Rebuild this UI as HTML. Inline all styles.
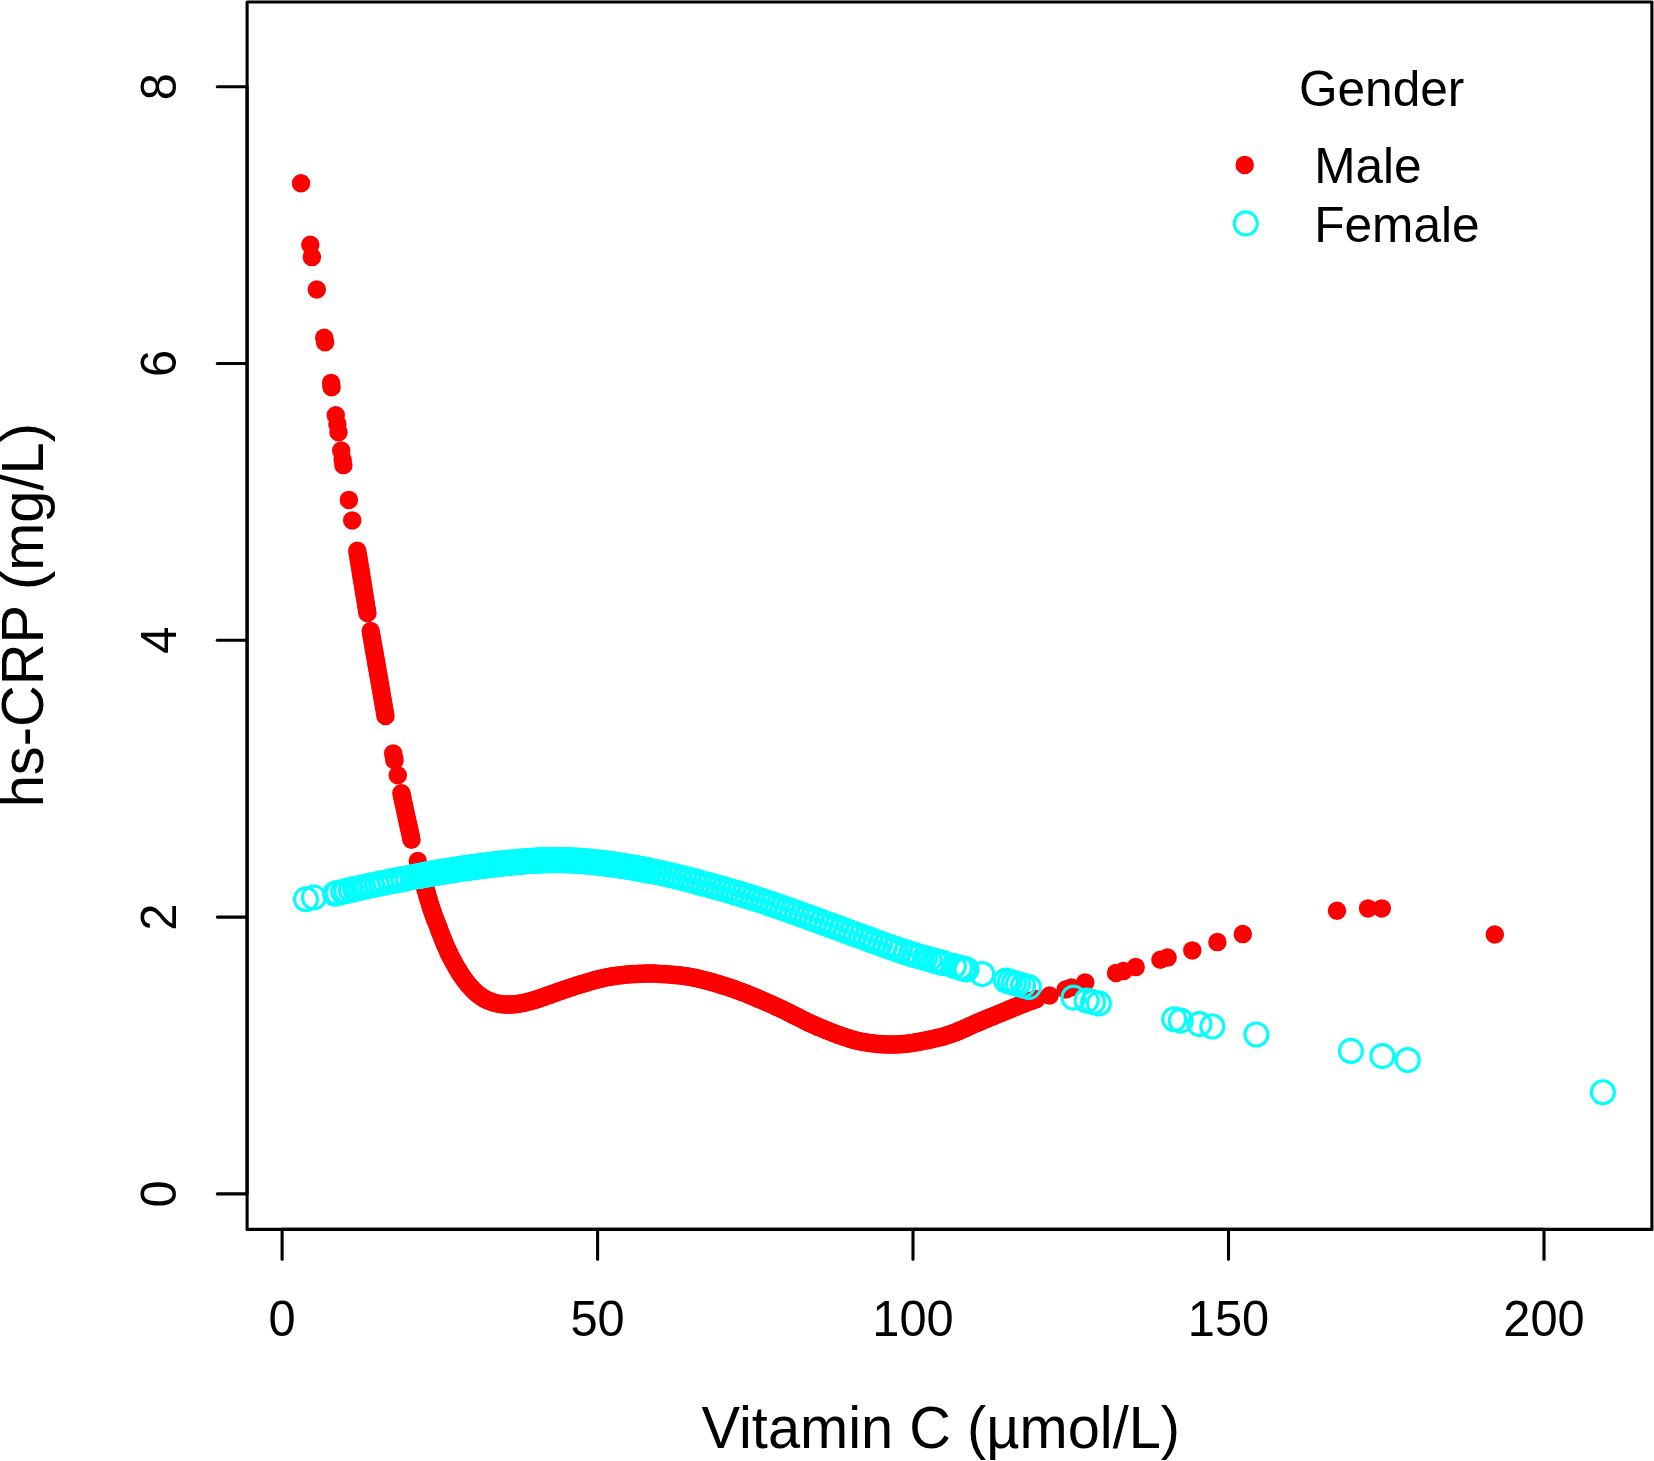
<!DOCTYPE html>
<html lang="en"><head><meta charset="utf-8"><title>hs-CRP vs Vitamin C by gender</title>
<style>html,body{margin:0;padding:0;background:#fff;}body{width:1654px;height:1461px;overflow:hidden;}svg{display:block;}text{font-family:"Liberation Sans",sans-serif;fill:#000;}</style></head><body>
<svg width="1654" height="1461" viewBox="0 0 1654 1461">
<rect x="0" y="0" width="1654" height="1461" fill="#ffffff"/>
<g fill="#ff0000" stroke="#ff0000" stroke-width="3.10">
<circle cx="301.0" cy="183.2" r="7.70"/>
<circle cx="310.3" cy="244.8" r="7.70"/>
<circle cx="311.9" cy="257.1" r="7.70"/>
<circle cx="316.8" cy="289.5" r="7.70"/>
<circle cx="324.2" cy="337.7" r="7.70"/>
<circle cx="325.1" cy="342.3" r="7.70"/>
<circle cx="331.1" cy="382.9" r="7.70"/>
<circle cx="331.6" cy="387.3" r="7.70"/>
<circle cx="335.8" cy="415.2" r="7.70"/>
<circle cx="337.4" cy="424.0" r="7.70"/>
<circle cx="338.5" cy="432.2" r="7.70"/>
<circle cx="341.2" cy="450.5" r="7.70"/>
<circle cx="342.6" cy="459.6" r="7.70"/>
<circle cx="343.4" cy="465.1" r="7.70"/>
<circle cx="348.9" cy="499.9" r="7.70"/>
<circle cx="352.2" cy="520.4" r="7.70"/>
<circle cx="357.3" cy="550.7" r="7.70"/>
<circle cx="357.8" cy="553.7" r="7.70"/>
<circle cx="358.3" cy="556.6" r="7.70"/>
<circle cx="358.7" cy="559.6" r="7.70"/>
<circle cx="359.2" cy="562.5" r="7.70"/>
<circle cx="359.7" cy="565.5" r="7.70"/>
<circle cx="360.2" cy="568.5" r="7.70"/>
<circle cx="360.7" cy="571.4" r="7.70"/>
<circle cx="361.1" cy="574.4" r="7.70"/>
<circle cx="361.6" cy="577.4" r="7.70"/>
<circle cx="362.1" cy="580.3" r="7.70"/>
<circle cx="362.6" cy="583.3" r="7.70"/>
<circle cx="363.1" cy="586.2" r="7.70"/>
<circle cx="363.6" cy="589.2" r="7.70"/>
<circle cx="364.0" cy="592.2" r="7.70"/>
<circle cx="364.5" cy="595.1" r="7.70"/>
<circle cx="365.0" cy="598.1" r="7.70"/>
<circle cx="365.5" cy="601.1" r="7.70"/>
<circle cx="366.0" cy="604.0" r="7.70"/>
<circle cx="366.4" cy="607.0" r="7.70"/>
<circle cx="366.9" cy="609.9" r="7.70"/>
<circle cx="367.4" cy="612.9" r="7.70"/>
<circle cx="370.7" cy="631.0" r="7.70"/>
<circle cx="371.2" cy="634.0" r="7.70"/>
<circle cx="371.8" cy="637.1" r="7.70"/>
<circle cx="372.3" cy="640.1" r="7.70"/>
<circle cx="372.8" cy="643.1" r="7.70"/>
<circle cx="373.3" cy="646.2" r="7.70"/>
<circle cx="373.9" cy="649.2" r="7.70"/>
<circle cx="374.4" cy="652.2" r="7.70"/>
<circle cx="374.9" cy="655.3" r="7.70"/>
<circle cx="375.5" cy="658.3" r="7.70"/>
<circle cx="376.0" cy="661.3" r="7.70"/>
<circle cx="376.5" cy="664.4" r="7.70"/>
<circle cx="377.0" cy="667.4" r="7.70"/>
<circle cx="377.6" cy="670.4" r="7.70"/>
<circle cx="378.1" cy="673.5" r="7.70"/>
<circle cx="378.6" cy="676.5" r="7.70"/>
<circle cx="379.2" cy="679.5" r="7.70"/>
<circle cx="379.7" cy="682.5" r="7.70"/>
<circle cx="380.2" cy="685.6" r="7.70"/>
<circle cx="380.7" cy="688.6" r="7.70"/>
<circle cx="381.3" cy="691.6" r="7.70"/>
<circle cx="381.8" cy="694.7" r="7.70"/>
<circle cx="382.3" cy="697.7" r="7.70"/>
<circle cx="382.9" cy="700.7" r="7.70"/>
<circle cx="383.4" cy="703.8" r="7.70"/>
<circle cx="383.9" cy="706.8" r="7.70"/>
<circle cx="384.4" cy="709.8" r="7.70"/>
<circle cx="385.0" cy="712.9" r="7.70"/>
<circle cx="385.5" cy="715.9" r="7.70"/>
<circle cx="393.2" cy="753.4" r="7.70"/>
<circle cx="393.9" cy="756.8" r="7.70"/>
<circle cx="394.5" cy="760.3" r="7.70"/>
<circle cx="397.8" cy="775.3" r="7.70"/>
<circle cx="401.4" cy="793.2" r="7.70"/>
<circle cx="402.1" cy="796.3" r="7.70"/>
<circle cx="402.7" cy="799.4" r="7.70"/>
<circle cx="403.4" cy="802.5" r="7.70"/>
<circle cx="404.1" cy="805.6" r="7.70"/>
<circle cx="404.8" cy="808.7" r="7.70"/>
<circle cx="405.4" cy="811.8" r="7.70"/>
<circle cx="406.1" cy="814.9" r="7.70"/>
<circle cx="406.8" cy="818.0" r="7.70"/>
<circle cx="407.5" cy="821.1" r="7.70"/>
<circle cx="408.1" cy="824.2" r="7.70"/>
<circle cx="408.8" cy="827.3" r="7.70"/>
<circle cx="409.5" cy="830.4" r="7.70"/>
<circle cx="410.2" cy="833.5" r="7.70"/>
<circle cx="410.8" cy="836.6" r="7.70"/>
<circle cx="411.5" cy="839.7" r="7.70"/>
<circle cx="417.8" cy="861.1" r="7.70"/>
<circle cx="424.6" cy="886.5" r="7.70"/>
<circle cx="425.3" cy="888.4" r="7.70"/>
<circle cx="425.9" cy="890.3" r="7.70"/>
<circle cx="426.5" cy="892.2" r="7.70"/>
<circle cx="427.1" cy="894.1" r="7.70"/>
<circle cx="427.6" cy="896.0" r="7.70"/>
<circle cx="428.2" cy="898.0" r="7.70"/>
<circle cx="428.8" cy="899.9" r="7.70"/>
<circle cx="429.3" cy="901.8" r="7.70"/>
<circle cx="429.9" cy="903.7" r="7.70"/>
<circle cx="430.4" cy="905.6" r="7.70"/>
<circle cx="431.0" cy="907.6" r="7.70"/>
<circle cx="431.7" cy="909.5" r="7.70"/>
<circle cx="432.3" cy="911.4" r="7.70"/>
<circle cx="433.0" cy="913.2" r="7.70"/>
<circle cx="433.7" cy="915.1" r="7.70"/>
<circle cx="434.4" cy="917.0" r="7.70"/>
<circle cx="435.1" cy="918.9" r="7.70"/>
<circle cx="435.8" cy="920.7" r="7.70"/>
<circle cx="436.6" cy="922.6" r="7.70"/>
<circle cx="437.3" cy="924.5" r="7.70"/>
<circle cx="438.0" cy="926.3" r="7.70"/>
<circle cx="438.7" cy="928.2" r="7.70"/>
<circle cx="439.4" cy="930.1" r="7.70"/>
<circle cx="440.1" cy="932.0" r="7.70"/>
<circle cx="440.8" cy="933.8" r="7.70"/>
<circle cx="441.5" cy="935.7" r="7.70"/>
<circle cx="442.2" cy="937.6" r="7.70"/>
<circle cx="443.0" cy="939.4" r="7.70"/>
<circle cx="443.7" cy="941.3" r="7.70"/>
<circle cx="444.5" cy="943.1" r="7.70"/>
<circle cx="445.3" cy="945.0" r="7.70"/>
<circle cx="446.1" cy="946.8" r="7.70"/>
<circle cx="446.9" cy="948.6" r="7.70"/>
<circle cx="447.7" cy="950.5" r="7.70"/>
<circle cx="448.5" cy="952.3" r="7.70"/>
<circle cx="449.4" cy="954.1" r="7.70"/>
<circle cx="450.3" cy="955.9" r="7.70"/>
<circle cx="451.2" cy="957.7" r="7.70"/>
<circle cx="452.1" cy="959.4" r="7.70"/>
<circle cx="453.1" cy="961.2" r="7.70"/>
<circle cx="454.1" cy="963.0" r="7.70"/>
<circle cx="455.0" cy="964.7" r="7.70"/>
<circle cx="456.0" cy="966.5" r="7.70"/>
<circle cx="457.0" cy="968.2" r="7.70"/>
<circle cx="458.0" cy="969.9" r="7.70"/>
<circle cx="459.1" cy="971.6" r="7.70"/>
<circle cx="460.1" cy="973.3" r="7.70"/>
<circle cx="461.2" cy="975.0" r="7.70"/>
<circle cx="462.3" cy="976.6" r="7.70"/>
<circle cx="463.5" cy="978.3" r="7.70"/>
<circle cx="464.7" cy="979.9" r="7.70"/>
<circle cx="465.9" cy="981.5" r="7.70"/>
<circle cx="467.1" cy="983.1" r="7.70"/>
<circle cx="468.4" cy="984.7" r="7.70"/>
<circle cx="469.7" cy="986.3" r="7.70"/>
<circle cx="471.1" cy="987.8" r="7.70"/>
<circle cx="472.5" cy="989.2" r="7.70"/>
<circle cx="473.9" cy="990.7" r="7.70"/>
<circle cx="475.4" cy="992.1" r="7.70"/>
<circle cx="476.9" cy="993.4" r="7.70"/>
<circle cx="478.5" cy="994.7" r="7.70"/>
<circle cx="480.1" cy="995.9" r="7.70"/>
<circle cx="481.8" cy="997.0" r="7.70"/>
<circle cx="483.5" cy="998.1" r="7.70"/>
<circle cx="485.2" cy="999.1" r="7.70"/>
<circle cx="487.0" cy="1000.0" r="7.70"/>
<circle cx="488.8" cy="1000.8" r="7.70"/>
<circle cx="490.7" cy="1001.6" r="7.70"/>
<circle cx="492.6" cy="1002.2" r="7.70"/>
<circle cx="494.5" cy="1002.8" r="7.70"/>
<circle cx="496.5" cy="1003.3" r="7.70"/>
<circle cx="498.4" cy="1003.7" r="7.70"/>
<circle cx="500.4" cy="1004.0" r="7.70"/>
<circle cx="502.4" cy="1004.3" r="7.70"/>
<circle cx="504.5" cy="1004.5" r="7.70"/>
<circle cx="506.5" cy="1004.6" r="7.70"/>
<circle cx="508.5" cy="1004.6" r="7.70"/>
<circle cx="510.5" cy="1004.6" r="7.70"/>
<circle cx="512.5" cy="1004.5" r="7.70"/>
<circle cx="514.5" cy="1004.3" r="7.70"/>
<circle cx="516.5" cy="1004.1" r="7.70"/>
<circle cx="518.5" cy="1003.8" r="7.70"/>
<circle cx="520.5" cy="1003.5" r="7.70"/>
<circle cx="522.4" cy="1003.1" r="7.70"/>
<circle cx="524.4" cy="1002.7" r="7.70"/>
<circle cx="526.4" cy="1002.3" r="7.70"/>
<circle cx="528.3" cy="1001.8" r="7.70"/>
<circle cx="530.3" cy="1001.2" r="7.70"/>
<circle cx="532.2" cy="1000.7" r="7.70"/>
<circle cx="534.1" cy="1000.1" r="7.70"/>
<circle cx="536.1" cy="999.5" r="7.70"/>
<circle cx="538.0" cy="998.9" r="7.70"/>
<circle cx="539.9" cy="998.3" r="7.70"/>
<circle cx="541.8" cy="997.6" r="7.70"/>
<circle cx="543.7" cy="997.0" r="7.70"/>
<circle cx="545.6" cy="996.3" r="7.70"/>
<circle cx="547.4" cy="995.6" r="7.70"/>
<circle cx="549.3" cy="995.0" r="7.70"/>
<circle cx="551.2" cy="994.3" r="7.70"/>
<circle cx="553.1" cy="993.6" r="7.70"/>
<circle cx="555.0" cy="992.9" r="7.70"/>
<circle cx="556.8" cy="992.2" r="7.70"/>
<circle cx="558.7" cy="991.6" r="7.70"/>
<circle cx="560.6" cy="990.9" r="7.70"/>
<circle cx="562.5" cy="990.2" r="7.70"/>
<circle cx="564.4" cy="989.6" r="7.70"/>
<circle cx="566.3" cy="988.9" r="7.70"/>
<circle cx="568.2" cy="988.3" r="7.70"/>
<circle cx="570.1" cy="987.7" r="7.70"/>
<circle cx="572.0" cy="987.1" r="7.70"/>
<circle cx="573.9" cy="986.4" r="7.70"/>
<circle cx="575.8" cy="985.8" r="7.70"/>
<circle cx="577.7" cy="985.2" r="7.70"/>
<circle cx="579.6" cy="984.6" r="7.70"/>
<circle cx="581.5" cy="984.0" r="7.70"/>
<circle cx="583.5" cy="983.5" r="7.70"/>
<circle cx="585.4" cy="982.9" r="7.70"/>
<circle cx="587.3" cy="982.3" r="7.70"/>
<circle cx="589.2" cy="981.8" r="7.70"/>
<circle cx="591.1" cy="981.2" r="7.70"/>
<circle cx="593.1" cy="980.6" r="7.70"/>
<circle cx="595.0" cy="980.1" r="7.70"/>
<circle cx="596.9" cy="979.6" r="7.70"/>
<circle cx="598.9" cy="979.1" r="7.70"/>
<circle cx="600.8" cy="978.6" r="7.70"/>
<circle cx="602.8" cy="978.2" r="7.70"/>
<circle cx="604.7" cy="977.7" r="7.70"/>
<circle cx="606.7" cy="977.3" r="7.70"/>
<circle cx="608.6" cy="976.9" r="7.70"/>
<circle cx="610.6" cy="976.6" r="7.70"/>
<circle cx="612.6" cy="976.2" r="7.70"/>
<circle cx="614.6" cy="975.9" r="7.70"/>
<circle cx="616.5" cy="975.7" r="7.70"/>
<circle cx="618.5" cy="975.4" r="7.70"/>
<circle cx="620.5" cy="975.2" r="7.70"/>
<circle cx="622.5" cy="974.9" r="7.70"/>
<circle cx="624.5" cy="974.8" r="7.70"/>
<circle cx="626.5" cy="974.6" r="7.70"/>
<circle cx="628.5" cy="974.4" r="7.70"/>
<circle cx="630.5" cy="974.3" r="7.70"/>
<circle cx="632.5" cy="974.1" r="7.70"/>
<circle cx="634.5" cy="974.0" r="7.70"/>
<circle cx="636.5" cy="973.9" r="7.70"/>
<circle cx="638.5" cy="973.8" r="7.70"/>
<circle cx="640.5" cy="973.7" r="7.70"/>
<circle cx="642.5" cy="973.7" r="7.70"/>
<circle cx="644.5" cy="973.6" r="7.70"/>
<circle cx="646.5" cy="973.6" r="7.70"/>
<circle cx="648.5" cy="973.6" r="7.70"/>
<circle cx="650.5" cy="973.6" r="7.70"/>
<circle cx="652.5" cy="973.6" r="7.70"/>
<circle cx="654.5" cy="973.6" r="7.70"/>
<circle cx="656.5" cy="973.7" r="7.70"/>
<circle cx="658.5" cy="973.8" r="7.70"/>
<circle cx="660.5" cy="973.9" r="7.70"/>
<circle cx="662.5" cy="974.0" r="7.70"/>
<circle cx="664.5" cy="974.1" r="7.70"/>
<circle cx="666.5" cy="974.3" r="7.70"/>
<circle cx="668.5" cy="974.4" r="7.70"/>
<circle cx="670.5" cy="974.6" r="7.70"/>
<circle cx="672.5" cy="974.8" r="7.70"/>
<circle cx="674.5" cy="975.0" r="7.70"/>
<circle cx="676.5" cy="975.1" r="7.70"/>
<circle cx="678.5" cy="975.3" r="7.70"/>
<circle cx="680.5" cy="975.6" r="7.70"/>
<circle cx="682.5" cy="975.8" r="7.70"/>
<circle cx="684.5" cy="976.0" r="7.70"/>
<circle cx="686.4" cy="976.3" r="7.70"/>
<circle cx="688.4" cy="976.6" r="7.70"/>
<circle cx="690.4" cy="976.9" r="7.70"/>
<circle cx="692.4" cy="977.3" r="7.70"/>
<circle cx="694.3" cy="977.7" r="7.70"/>
<circle cx="696.3" cy="978.1" r="7.70"/>
<circle cx="698.2" cy="978.5" r="7.70"/>
<circle cx="700.2" cy="979.0" r="7.70"/>
<circle cx="702.1" cy="979.5" r="7.70"/>
<circle cx="704.1" cy="980.0" r="7.70"/>
<circle cx="706.0" cy="980.5" r="7.70"/>
<circle cx="707.9" cy="981.0" r="7.70"/>
<circle cx="709.9" cy="981.5" r="7.70"/>
<circle cx="711.8" cy="982.1" r="7.70"/>
<circle cx="713.7" cy="982.6" r="7.70"/>
<circle cx="715.7" cy="983.2" r="7.70"/>
<circle cx="717.6" cy="983.7" r="7.70"/>
<circle cx="719.5" cy="984.3" r="7.70"/>
<circle cx="721.4" cy="984.9" r="7.70"/>
<circle cx="723.3" cy="985.5" r="7.70"/>
<circle cx="725.2" cy="986.1" r="7.70"/>
<circle cx="727.1" cy="986.7" r="7.70"/>
<circle cx="729.0" cy="987.3" r="7.70"/>
<circle cx="730.9" cy="988.0" r="7.70"/>
<circle cx="732.8" cy="988.6" r="7.70"/>
<circle cx="734.7" cy="989.3" r="7.70"/>
<circle cx="736.6" cy="990.0" r="7.70"/>
<circle cx="738.5" cy="990.7" r="7.70"/>
<circle cx="740.4" cy="991.4" r="7.70"/>
<circle cx="742.2" cy="992.1" r="7.70"/>
<circle cx="744.1" cy="992.8" r="7.70"/>
<circle cx="746.0" cy="993.5" r="7.70"/>
<circle cx="747.8" cy="994.3" r="7.70"/>
<circle cx="749.7" cy="995.0" r="7.70"/>
<circle cx="751.5" cy="995.8" r="7.70"/>
<circle cx="753.4" cy="996.6" r="7.70"/>
<circle cx="755.2" cy="997.4" r="7.70"/>
<circle cx="757.1" cy="998.1" r="7.70"/>
<circle cx="758.9" cy="998.9" r="7.70"/>
<circle cx="760.7" cy="999.7" r="7.70"/>
<circle cx="762.6" cy="1000.5" r="7.70"/>
<circle cx="764.4" cy="1001.3" r="7.70"/>
<circle cx="766.2" cy="1002.1" r="7.70"/>
<circle cx="768.1" cy="1002.9" r="7.70"/>
<circle cx="769.9" cy="1003.7" r="7.70"/>
<circle cx="771.7" cy="1004.5" r="7.70"/>
<circle cx="773.6" cy="1005.3" r="7.70"/>
<circle cx="775.4" cy="1006.2" r="7.70"/>
<circle cx="777.2" cy="1007.0" r="7.70"/>
<circle cx="779.0" cy="1007.8" r="7.70"/>
<circle cx="780.8" cy="1008.7" r="7.70"/>
<circle cx="782.7" cy="1009.5" r="7.70"/>
<circle cx="784.5" cy="1010.4" r="7.70"/>
<circle cx="786.3" cy="1011.3" r="7.70"/>
<circle cx="788.1" cy="1012.2" r="7.70"/>
<circle cx="789.8" cy="1013.1" r="7.70"/>
<circle cx="791.6" cy="1014.0" r="7.70"/>
<circle cx="793.4" cy="1014.9" r="7.70"/>
<circle cx="795.2" cy="1015.8" r="7.70"/>
<circle cx="797.0" cy="1016.7" r="7.70"/>
<circle cx="798.8" cy="1017.6" r="7.70"/>
<circle cx="800.6" cy="1018.5" r="7.70"/>
<circle cx="802.3" cy="1019.4" r="7.70"/>
<circle cx="804.1" cy="1020.3" r="7.70"/>
<circle cx="805.9" cy="1021.2" r="7.70"/>
<circle cx="807.7" cy="1022.1" r="7.70"/>
<circle cx="809.5" cy="1022.9" r="7.70"/>
<circle cx="811.4" cy="1023.8" r="7.70"/>
<circle cx="813.2" cy="1024.6" r="7.70"/>
<circle cx="815.0" cy="1025.4" r="7.70"/>
<circle cx="816.8" cy="1026.2" r="7.70"/>
<circle cx="818.7" cy="1027.0" r="7.70"/>
<circle cx="820.5" cy="1027.8" r="7.70"/>
<circle cx="822.4" cy="1028.5" r="7.70"/>
<circle cx="824.2" cy="1029.3" r="7.70"/>
<circle cx="826.1" cy="1030.1" r="7.70"/>
<circle cx="827.9" cy="1030.8" r="7.70"/>
<circle cx="829.8" cy="1031.6" r="7.70"/>
<circle cx="831.7" cy="1032.3" r="7.70"/>
<circle cx="833.5" cy="1033.0" r="7.70"/>
<circle cx="835.4" cy="1033.7" r="7.70"/>
<circle cx="837.3" cy="1034.4" r="7.70"/>
<circle cx="839.2" cy="1035.1" r="7.70"/>
<circle cx="841.1" cy="1035.8" r="7.70"/>
<circle cx="843.0" cy="1036.5" r="7.70"/>
<circle cx="844.9" cy="1037.1" r="7.70"/>
<circle cx="846.8" cy="1037.7" r="7.70"/>
<circle cx="848.7" cy="1038.3" r="7.70"/>
<circle cx="850.6" cy="1038.9" r="7.70"/>
<circle cx="852.5" cy="1039.5" r="7.70"/>
<circle cx="854.4" cy="1040.0" r="7.70"/>
<circle cx="856.4" cy="1040.5" r="7.70"/>
<circle cx="858.3" cy="1040.9" r="7.70"/>
<circle cx="860.3" cy="1041.4" r="7.70"/>
<circle cx="862.2" cy="1041.8" r="7.70"/>
<circle cx="864.2" cy="1042.1" r="7.70"/>
<circle cx="866.2" cy="1042.5" r="7.70"/>
<circle cx="868.2" cy="1042.8" r="7.70"/>
<circle cx="870.2" cy="1043.1" r="7.70"/>
<circle cx="872.1" cy="1043.3" r="7.70"/>
<circle cx="874.1" cy="1043.5" r="7.70"/>
<circle cx="876.1" cy="1043.7" r="7.70"/>
<circle cx="878.1" cy="1043.9" r="7.70"/>
<circle cx="880.1" cy="1044.1" r="7.70"/>
<circle cx="882.1" cy="1044.2" r="7.70"/>
<circle cx="884.1" cy="1044.3" r="7.70"/>
<circle cx="886.1" cy="1044.4" r="7.70"/>
<circle cx="888.1" cy="1044.5" r="7.70"/>
<circle cx="890.1" cy="1044.5" r="7.70"/>
<circle cx="892.1" cy="1044.5" r="7.70"/>
<circle cx="894.1" cy="1044.5" r="7.70"/>
<circle cx="896.1" cy="1044.4" r="7.70"/>
<circle cx="898.1" cy="1044.3" r="7.70"/>
<circle cx="900.1" cy="1044.2" r="7.70"/>
<circle cx="902.1" cy="1044.1" r="7.70"/>
<circle cx="904.1" cy="1043.9" r="7.70"/>
<circle cx="906.1" cy="1043.7" r="7.70"/>
<circle cx="908.1" cy="1043.5" r="7.70"/>
<circle cx="910.1" cy="1043.2" r="7.70"/>
<circle cx="912.1" cy="1042.9" r="7.70"/>
<circle cx="914.1" cy="1042.6" r="7.70"/>
<circle cx="916.0" cy="1042.3" r="7.70"/>
<circle cx="918.0" cy="1042.0" r="7.70"/>
<circle cx="920.0" cy="1041.6" r="7.70"/>
<circle cx="922.0" cy="1041.2" r="7.70"/>
<circle cx="923.9" cy="1040.8" r="7.70"/>
<circle cx="925.9" cy="1040.4" r="7.70"/>
<circle cx="927.8" cy="1040.0" r="7.70"/>
<circle cx="929.8" cy="1039.6" r="7.70"/>
<circle cx="931.8" cy="1039.2" r="7.70"/>
<circle cx="933.7" cy="1038.7" r="7.70"/>
<circle cx="935.7" cy="1038.3" r="7.70"/>
<circle cx="937.6" cy="1037.8" r="7.70"/>
<circle cx="939.6" cy="1037.4" r="7.70"/>
<circle cx="941.5" cy="1036.9" r="7.70"/>
<circle cx="943.4" cy="1036.4" r="7.70"/>
<circle cx="945.4" cy="1035.8" r="7.70"/>
<circle cx="947.3" cy="1035.2" r="7.70"/>
<circle cx="949.2" cy="1034.6" r="7.70"/>
<circle cx="951.1" cy="1034.0" r="7.70"/>
<circle cx="953.0" cy="1033.3" r="7.70"/>
<circle cx="954.8" cy="1032.6" r="7.70"/>
<circle cx="956.7" cy="1031.9" r="7.70"/>
<circle cx="958.5" cy="1031.1" r="7.70"/>
<circle cx="960.4" cy="1030.3" r="7.70"/>
<circle cx="962.2" cy="1029.5" r="7.70"/>
<circle cx="964.0" cy="1028.7" r="7.70"/>
<circle cx="965.9" cy="1027.9" r="7.70"/>
<circle cx="967.7" cy="1027.0" r="7.70"/>
<circle cx="969.5" cy="1026.2" r="7.70"/>
<circle cx="971.3" cy="1025.4" r="7.70"/>
<circle cx="973.2" cy="1024.5" r="7.70"/>
<circle cx="975.0" cy="1023.7" r="7.70"/>
<circle cx="976.8" cy="1022.9" r="7.70"/>
<circle cx="978.7" cy="1022.1" r="7.70"/>
<circle cx="980.5" cy="1021.4" r="7.70"/>
<circle cx="982.4" cy="1020.6" r="7.70"/>
<circle cx="984.2" cy="1019.8" r="7.70"/>
<circle cx="986.1" cy="1019.1" r="7.70"/>
<circle cx="987.9" cy="1018.3" r="7.70"/>
<circle cx="989.8" cy="1017.5" r="7.70"/>
<circle cx="991.6" cy="1016.8" r="7.70"/>
<circle cx="993.5" cy="1016.0" r="7.70"/>
<circle cx="995.3" cy="1015.3" r="7.70"/>
<circle cx="997.2" cy="1014.5" r="7.70"/>
<circle cx="999.0" cy="1013.7" r="7.70"/>
<circle cx="1000.9" cy="1013.0" r="7.70"/>
<circle cx="1002.7" cy="1012.2" r="7.70"/>
<circle cx="1004.6" cy="1011.4" r="7.70"/>
<circle cx="1006.4" cy="1010.7" r="7.70"/>
<circle cx="1008.3" cy="1009.9" r="7.70"/>
<circle cx="1010.1" cy="1009.1" r="7.70"/>
<circle cx="1012.0" cy="1008.4" r="7.70"/>
<circle cx="1013.8" cy="1007.6" r="7.70"/>
<circle cx="1015.7" cy="1006.8" r="7.70"/>
<circle cx="1017.5" cy="1006.1" r="7.70"/>
<circle cx="1019.4" cy="1005.3" r="7.70"/>
<circle cx="1021.3" cy="1004.6" r="7.70"/>
<circle cx="1023.1" cy="1003.9" r="7.70"/>
<circle cx="1025.0" cy="1003.2" r="7.70"/>
<circle cx="1026.9" cy="1002.5" r="7.70"/>
<circle cx="1028.7" cy="1001.8" r="7.70"/>
<circle cx="1030.6" cy="1001.1" r="7.70"/>
<circle cx="1032.5" cy="1000.4" r="7.70"/>
<circle cx="1034.4" cy="999.7" r="7.70"/>
<circle cx="1036.3" cy="999.1" r="7.70"/>
<circle cx="1049.6" cy="995.5" r="7.70"/>
<circle cx="1065.6" cy="989.6" r="7.70"/>
<circle cx="1071.4" cy="987.5" r="7.70"/>
<circle cx="1085.2" cy="982.4" r="7.70"/>
<circle cx="1116.1" cy="972.9" r="7.70"/>
<circle cx="1123.4" cy="971.1" r="7.70"/>
<circle cx="1135.7" cy="967.1" r="7.70"/>
<circle cx="1160.4" cy="959.8" r="7.70"/>
<circle cx="1167.6" cy="957.6" r="7.70"/>
<circle cx="1192.3" cy="950.4" r="7.70"/>
<circle cx="1217.4" cy="942.1" r="7.70"/>
<circle cx="1242.8" cy="934.1" r="7.70"/>
<circle cx="1337.0" cy="910.7" r="7.70"/>
<circle cx="1368.1" cy="908.4" r="7.70"/>
<circle cx="1381.8" cy="908.4" r="7.70"/>
<circle cx="1494.8" cy="934.5" r="7.70"/>
</g>
<g fill="none" stroke="#00ffff" stroke-width="3.10">
<circle cx="306.0" cy="899.2" r="11.50"/>
<circle cx="313.9" cy="897.5" r="11.50"/>
<circle cx="335.1" cy="893.7" r="11.50"/>
<circle cx="337.6" cy="893.1" r="11.50"/>
<circle cx="343.2" cy="891.7" r="11.50"/>
<circle cx="346.4" cy="891.0" r="11.50"/>
<circle cx="351.0" cy="889.9" r="11.50"/>
<circle cx="355.2" cy="888.9" r="11.50"/>
<circle cx="359.6" cy="888.0" r="11.50"/>
<circle cx="363.0" cy="887.2" r="11.50"/>
<circle cx="368.1" cy="886.1" r="11.50"/>
<circle cx="372.0" cy="885.2" r="11.50"/>
<circle cx="376.6" cy="884.3" r="11.50"/>
<circle cx="381.0" cy="883.4" r="11.50"/>
<circle cx="385.2" cy="882.5" r="11.50"/>
<circle cx="390.0" cy="881.6" r="11.50"/>
<circle cx="394.1" cy="880.8" r="11.50"/>
<circle cx="399.0" cy="879.9" r="11.50"/>
<circle cx="403.4" cy="879.0" r="11.50"/>
<circle cx="408.0" cy="878.1" r="11.50"/>
<circle cx="413.0" cy="877.1" r="11.50"/>
<circle cx="417.0" cy="876.3" r="11.50"/>
<circle cx="420.0" cy="875.8" r="11.50"/>
<circle cx="421.6" cy="875.5" r="11.50"/>
<circle cx="423.2" cy="875.2" r="11.50"/>
<circle cx="424.8" cy="874.9" r="11.50"/>
<circle cx="426.4" cy="874.6" r="11.50"/>
<circle cx="428.0" cy="874.3" r="11.50"/>
<circle cx="429.6" cy="874.0" r="11.50"/>
<circle cx="431.2" cy="873.7" r="11.50"/>
<circle cx="432.8" cy="873.4" r="11.50"/>
<circle cx="434.4" cy="873.1" r="11.50"/>
<circle cx="436.0" cy="872.9" r="11.50"/>
<circle cx="437.6" cy="872.6" r="11.50"/>
<circle cx="439.2" cy="872.3" r="11.50"/>
<circle cx="440.8" cy="872.0" r="11.50"/>
<circle cx="442.4" cy="871.8" r="11.50"/>
<circle cx="444.0" cy="871.5" r="11.50"/>
<circle cx="445.6" cy="871.2" r="11.50"/>
<circle cx="447.2" cy="871.0" r="11.50"/>
<circle cx="448.8" cy="870.7" r="11.50"/>
<circle cx="450.4" cy="870.5" r="11.50"/>
<circle cx="452.0" cy="870.2" r="11.50"/>
<circle cx="453.6" cy="870.0" r="11.50"/>
<circle cx="455.2" cy="869.7" r="11.50"/>
<circle cx="456.8" cy="869.5" r="11.50"/>
<circle cx="458.4" cy="869.2" r="11.50"/>
<circle cx="460.0" cy="869.0" r="11.50"/>
<circle cx="461.6" cy="868.8" r="11.50"/>
<circle cx="463.2" cy="868.5" r="11.50"/>
<circle cx="464.8" cy="868.3" r="11.50"/>
<circle cx="466.4" cy="868.1" r="11.50"/>
<circle cx="468.0" cy="867.9" r="11.50"/>
<circle cx="469.6" cy="867.6" r="11.50"/>
<circle cx="471.2" cy="867.4" r="11.50"/>
<circle cx="472.8" cy="867.2" r="11.50"/>
<circle cx="474.4" cy="867.0" r="11.50"/>
<circle cx="476.0" cy="866.8" r="11.50"/>
<circle cx="477.6" cy="866.5" r="11.50"/>
<circle cx="479.2" cy="866.3" r="11.50"/>
<circle cx="480.8" cy="866.1" r="11.50"/>
<circle cx="482.4" cy="865.9" r="11.50"/>
<circle cx="484.0" cy="865.7" r="11.50"/>
<circle cx="485.6" cy="865.5" r="11.50"/>
<circle cx="487.2" cy="865.3" r="11.50"/>
<circle cx="488.8" cy="865.1" r="11.50"/>
<circle cx="490.4" cy="864.9" r="11.50"/>
<circle cx="492.0" cy="864.7" r="11.50"/>
<circle cx="493.6" cy="864.5" r="11.50"/>
<circle cx="495.2" cy="864.3" r="11.50"/>
<circle cx="496.8" cy="864.1" r="11.50"/>
<circle cx="498.4" cy="863.9" r="11.50"/>
<circle cx="500.0" cy="863.8" r="11.50"/>
<circle cx="501.6" cy="863.6" r="11.50"/>
<circle cx="503.2" cy="863.4" r="11.50"/>
<circle cx="504.8" cy="863.2" r="11.50"/>
<circle cx="506.4" cy="863.1" r="11.50"/>
<circle cx="508.0" cy="862.9" r="11.50"/>
<circle cx="509.6" cy="862.7" r="11.50"/>
<circle cx="511.2" cy="862.6" r="11.50"/>
<circle cx="512.8" cy="862.4" r="11.50"/>
<circle cx="514.4" cy="862.3" r="11.50"/>
<circle cx="516.0" cy="862.1" r="11.50"/>
<circle cx="517.6" cy="862.0" r="11.50"/>
<circle cx="519.2" cy="861.8" r="11.50"/>
<circle cx="520.8" cy="861.7" r="11.50"/>
<circle cx="522.4" cy="861.6" r="11.50"/>
<circle cx="524.0" cy="861.4" r="11.50"/>
<circle cx="525.6" cy="861.3" r="11.50"/>
<circle cx="527.2" cy="861.2" r="11.50"/>
<circle cx="528.8" cy="861.1" r="11.50"/>
<circle cx="530.4" cy="861.0" r="11.50"/>
<circle cx="532.0" cy="860.9" r="11.50"/>
<circle cx="533.6" cy="860.8" r="11.50"/>
<circle cx="535.2" cy="860.7" r="11.50"/>
<circle cx="536.8" cy="860.6" r="11.50"/>
<circle cx="538.4" cy="860.5" r="11.50"/>
<circle cx="540.0" cy="860.4" r="11.50"/>
<circle cx="541.6" cy="860.4" r="11.50"/>
<circle cx="543.2" cy="860.3" r="11.50"/>
<circle cx="544.8" cy="860.3" r="11.50"/>
<circle cx="546.4" cy="860.2" r="11.50"/>
<circle cx="548.0" cy="860.2" r="11.50"/>
<circle cx="549.6" cy="860.1" r="11.50"/>
<circle cx="551.2" cy="860.1" r="11.50"/>
<circle cx="552.8" cy="860.1" r="11.50"/>
<circle cx="554.4" cy="860.1" r="11.50"/>
<circle cx="556.0" cy="860.1" r="11.50"/>
<circle cx="557.6" cy="860.1" r="11.50"/>
<circle cx="559.2" cy="860.1" r="11.50"/>
<circle cx="560.8" cy="860.1" r="11.50"/>
<circle cx="562.4" cy="860.1" r="11.50"/>
<circle cx="564.0" cy="860.2" r="11.50"/>
<circle cx="565.6" cy="860.2" r="11.50"/>
<circle cx="567.2" cy="860.3" r="11.50"/>
<circle cx="568.8" cy="860.3" r="11.50"/>
<circle cx="570.4" cy="860.4" r="11.50"/>
<circle cx="572.0" cy="860.5" r="11.50"/>
<circle cx="573.6" cy="860.5" r="11.50"/>
<circle cx="575.2" cy="860.6" r="11.50"/>
<circle cx="576.8" cy="860.7" r="11.50"/>
<circle cx="578.4" cy="860.8" r="11.50"/>
<circle cx="580.0" cy="860.9" r="11.50"/>
<circle cx="581.6" cy="861.0" r="11.50"/>
<circle cx="583.2" cy="861.2" r="11.50"/>
<circle cx="584.8" cy="861.3" r="11.50"/>
<circle cx="586.4" cy="861.4" r="11.50"/>
<circle cx="588.0" cy="861.6" r="11.50"/>
<circle cx="589.6" cy="861.7" r="11.50"/>
<circle cx="591.2" cy="861.9" r="11.50"/>
<circle cx="592.8" cy="862.0" r="11.50"/>
<circle cx="594.4" cy="862.2" r="11.50"/>
<circle cx="596.0" cy="862.4" r="11.50"/>
<circle cx="597.6" cy="862.5" r="11.50"/>
<circle cx="599.2" cy="862.7" r="11.50"/>
<circle cx="600.8" cy="862.9" r="11.50"/>
<circle cx="602.4" cy="863.1" r="11.50"/>
<circle cx="604.0" cy="863.3" r="11.50"/>
<circle cx="605.6" cy="863.5" r="11.50"/>
<circle cx="607.2" cy="863.7" r="11.50"/>
<circle cx="608.8" cy="863.9" r="11.50"/>
<circle cx="610.4" cy="864.1" r="11.50"/>
<circle cx="612.0" cy="864.4" r="11.50"/>
<circle cx="613.6" cy="864.6" r="11.50"/>
<circle cx="615.2" cy="864.8" r="11.50"/>
<circle cx="616.8" cy="865.0" r="11.50"/>
<circle cx="618.4" cy="865.3" r="11.50"/>
<circle cx="620.0" cy="865.5" r="11.50"/>
<circle cx="621.6" cy="865.8" r="11.50"/>
<circle cx="623.2" cy="866.0" r="11.50"/>
<circle cx="624.8" cy="866.2" r="11.50"/>
<circle cx="626.4" cy="866.5" r="11.50"/>
<circle cx="628.0" cy="866.8" r="11.50"/>
<circle cx="629.6" cy="867.0" r="11.50"/>
<circle cx="631.2" cy="867.3" r="11.50"/>
<circle cx="632.8" cy="867.6" r="11.50"/>
<circle cx="634.4" cy="867.8" r="11.50"/>
<circle cx="636.0" cy="868.1" r="11.50"/>
<circle cx="637.6" cy="868.4" r="11.50"/>
<circle cx="639.2" cy="868.7" r="11.50"/>
<circle cx="640.8" cy="869.0" r="11.50"/>
<circle cx="642.4" cy="869.3" r="11.50"/>
<circle cx="644.0" cy="869.6" r="11.50"/>
<circle cx="645.6" cy="869.9" r="11.50"/>
<circle cx="647.2" cy="870.2" r="11.50"/>
<circle cx="648.8" cy="870.5" r="11.50"/>
<circle cx="650.0" cy="870.7" r="11.50"/>
<circle cx="654.9" cy="871.7" r="11.50"/>
<circle cx="659.8" cy="872.8" r="11.50"/>
<circle cx="664.7" cy="873.8" r="11.50"/>
<circle cx="669.6" cy="875.0" r="11.50"/>
<circle cx="674.5" cy="876.1" r="11.50"/>
<circle cx="679.4" cy="877.3" r="11.50"/>
<circle cx="684.3" cy="878.6" r="11.50"/>
<circle cx="689.2" cy="879.8" r="11.50"/>
<circle cx="694.1" cy="881.1" r="11.50"/>
<circle cx="699.0" cy="882.4" r="11.50"/>
<circle cx="703.9" cy="883.7" r="11.50"/>
<circle cx="708.8" cy="885.0" r="11.50"/>
<circle cx="713.7" cy="886.4" r="11.50"/>
<circle cx="718.6" cy="887.8" r="11.50"/>
<circle cx="723.5" cy="889.1" r="11.50"/>
<circle cx="728.4" cy="890.5" r="11.50"/>
<circle cx="733.3" cy="892.0" r="11.50"/>
<circle cx="738.2" cy="893.4" r="11.50"/>
<circle cx="743.1" cy="894.9" r="11.50"/>
<circle cx="748.0" cy="896.4" r="11.50"/>
<circle cx="752.9" cy="897.9" r="11.50"/>
<circle cx="757.8" cy="899.5" r="11.50"/>
<circle cx="762.7" cy="901.1" r="11.50"/>
<circle cx="767.6" cy="902.7" r="11.50"/>
<circle cx="772.5" cy="904.4" r="11.50"/>
<circle cx="777.4" cy="906.1" r="11.50"/>
<circle cx="782.3" cy="907.8" r="11.50"/>
<circle cx="787.2" cy="909.5" r="11.50"/>
<circle cx="792.1" cy="911.3" r="11.50"/>
<circle cx="797.0" cy="913.0" r="11.50"/>
<circle cx="801.9" cy="914.8" r="11.50"/>
<circle cx="806.8" cy="916.6" r="11.50"/>
<circle cx="811.7" cy="918.4" r="11.50"/>
<circle cx="816.6" cy="920.1" r="11.50"/>
<circle cx="821.5" cy="921.9" r="11.50"/>
<circle cx="826.4" cy="923.7" r="11.50"/>
<circle cx="831.3" cy="925.5" r="11.50"/>
<circle cx="836.2" cy="927.3" r="11.50"/>
<circle cx="841.1" cy="929.1" r="11.50"/>
<circle cx="846.0" cy="930.9" r="11.50"/>
<circle cx="850.9" cy="932.7" r="11.50"/>
<circle cx="855.8" cy="934.5" r="11.50"/>
<circle cx="860.7" cy="936.3" r="11.50"/>
<circle cx="865.6" cy="938.1" r="11.50"/>
<circle cx="870.5" cy="939.9" r="11.50"/>
<circle cx="875.4" cy="941.7" r="11.50"/>
<circle cx="880.3" cy="943.5" r="11.50"/>
<circle cx="885.2" cy="945.3" r="11.50"/>
<circle cx="890.1" cy="947.0" r="11.50"/>
<circle cx="895.0" cy="948.7" r="11.50"/>
<circle cx="899.9" cy="950.4" r="11.50"/>
<circle cx="906.0" cy="952.4" r="11.50"/>
<circle cx="911.0" cy="954.0" r="11.50"/>
<circle cx="915.0" cy="955.2" r="11.50"/>
<circle cx="919.5" cy="956.5" r="11.50"/>
<circle cx="925.0" cy="958.1" r="11.50"/>
<circle cx="929.5" cy="959.3" r="11.50"/>
<circle cx="934.4" cy="960.7" r="11.50"/>
<circle cx="937.5" cy="961.5" r="11.50"/>
<circle cx="940.9" cy="962.5" r="11.50"/>
<circle cx="944.0" cy="963.3" r="11.50"/>
<circle cx="953.9" cy="966.0" r="11.50"/>
<circle cx="960.0" cy="967.7" r="11.50"/>
<circle cx="964.0" cy="968.8" r="11.50"/>
<circle cx="966.5" cy="969.5" r="11.50"/>
<circle cx="982.2" cy="974.0" r="11.50"/>
<circle cx="1006.0" cy="980.6" r="11.50"/>
<circle cx="1010.0" cy="981.7" r="11.50"/>
<circle cx="1014.0" cy="982.9" r="11.50"/>
<circle cx="1018.0" cy="984.0" r="11.50"/>
<circle cx="1023.0" cy="985.5" r="11.50"/>
<circle cx="1028.9" cy="987.1" r="11.50"/>
<circle cx="1073.5" cy="997.6" r="11.50"/>
<circle cx="1086.6" cy="1000.6" r="11.50"/>
<circle cx="1093.1" cy="1002.1" r="11.50"/>
<circle cx="1098.9" cy="1003.4" r="11.50"/>
<circle cx="1174.2" cy="1019.3" r="11.50"/>
<circle cx="1180.7" cy="1020.6" r="11.50"/>
<circle cx="1199.5" cy="1024.1" r="11.50"/>
<circle cx="1212.3" cy="1026.5" r="11.50"/>
<circle cx="1256.4" cy="1034.5" r="11.50"/>
<circle cx="1350.9" cy="1050.9" r="11.50"/>
<circle cx="1382.4" cy="1056.1" r="11.50"/>
<circle cx="1407.7" cy="1060.1" r="11.50"/>
<circle cx="1602.9" cy="1092.2" r="11.50"/>
</g>
<g fill="none" stroke="#000" stroke-width="3.10" stroke-linecap="round" stroke-linejoin="round">
<rect x="247.10" y="2.05" width="1404.80" height="1227.35"/>
<path d="M282.10 1229.40H1544.00"/>
<path d="M282.10 1230.40V1259.20"/>
<path d="M597.60 1230.40V1259.20"/>
<path d="M913.00 1230.40V1259.20"/>
<path d="M1228.50 1230.40V1259.20"/>
<path d="M1544.00 1230.40V1259.20"/>
<path d="M247.10 1193.90V86.80"/>
<path d="M246.10 1193.90H217.30"/>
<path d="M246.10 917.10H217.30"/>
<path d="M246.10 640.30H217.30"/>
<path d="M246.10 363.50H217.30"/>
<path d="M246.10 86.80H217.30"/>
</g>
<g font-size="48.8" text-anchor="middle">
<text transform="translate(282.1 1336) scale(1 1.025)">0</text>
<text transform="translate(597.6 1336) scale(1 1.025)">50</text>
<text transform="translate(913.0 1336) scale(1 1.025)">100</text>
<text transform="translate(1228.5 1336) scale(1 1.025)">150</text>
<text transform="translate(1544.0 1336) scale(1 1.025)">200</text>
<text transform="translate(176.2 1193.9) rotate(-90) scale(1 1.025)">0</text>
<text transform="translate(176.2 917.1) rotate(-90) scale(1 1.025)">2</text>
<text transform="translate(176.2 640.3) rotate(-90) scale(1 1.025)">4</text>
<text transform="translate(176.2 363.5) rotate(-90) scale(1 1.025)">6</text>
<text transform="translate(176.2 86.8) rotate(-90) scale(1 1.025)">8</text>
</g>
<text font-size="57.8" text-anchor="middle" transform="translate(940.8 1448.1) scale(1 1.03)">Vitamin C (µmol/L)</text>
<text font-size="57.8" text-anchor="middle" transform="translate(42.7 615.2) rotate(-90) scale(1 1.03)">hs-CRP (mg/L)</text>
<g font-size="49.6">
<text x="1298.9" y="106.4">Gender</text>
<text x="1314.2" y="183.3">Male</text>
<text x="1314.2" y="242.2">Female</text>
</g>
<circle cx="1244.7" cy="164.9" r="7.70" fill="#ff0000" stroke="#ff0000" stroke-width="3.10"/>
<circle cx="1245.8" cy="223.4" r="11.50" fill="none" stroke="#00ffff" stroke-width="3.10"/>
</svg></body></html>
